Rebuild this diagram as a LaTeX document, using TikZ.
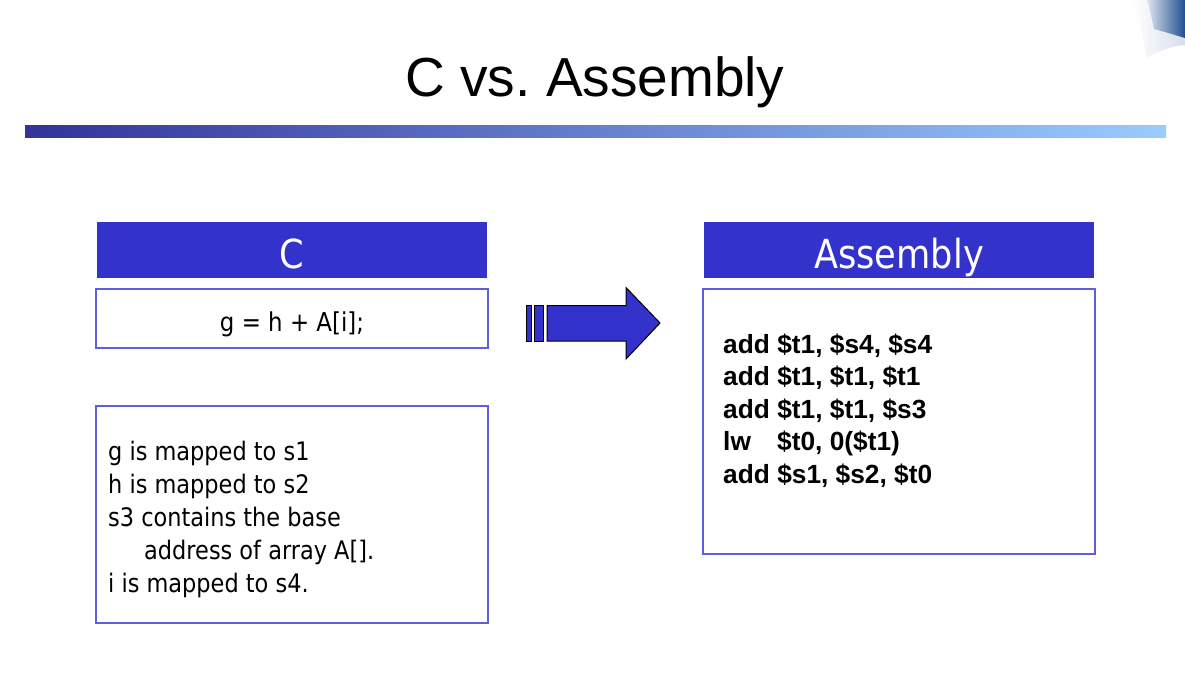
\documentclass[tikz,border=0pt]{standalone}
\usepackage{fontspec}
\newfontfamily\tah[FakeStretch=0.88]{DejaVu Sans}
\newfontfamily\ari{Liberation Sans}
\definecolor{hdr}{HTML}{3333CC}
\definecolor{bord}{HTML}{5F5FDD}
\definecolor{barL}{HTML}{333399}
\definecolor{barR}{HTML}{99CCFF}
\definecolor{curlD}{HTML}{1F4F8F}
\definecolor{curlL}{HTML}{D8DEEA}
\tikzset{
  hdrbox/.style={fill=hdr, draw=none},
  bodybox/.style={draw=bord, line width=1.3pt, fill=white},
  hdrtext/.style={text=white, font=\tah\fontsize{40}{40}\selectfont, anchor=base, inner sep=0pt},
  ctext/.style={font=\tah\fontsize{25.5}{33}\selectfont, anchor=base west, inner sep=0pt},
  asmtext/.style={font=\ari\bfseries\fontsize{26.3}{32.5}\selectfont, anchor=base west, inner sep=0pt},
  arrowpart/.style={fill=hdr, draw=black, line width=1pt}
}
\frenchspacing
\begin{document}
\begin{tikzpicture}[x=1pt,y=-1pt]
\useasboundingbox (0,0) rectangle (1185,683);
\fill[white] (0,0) rectangle (1185,683);
% corner decoration
\shade[left color=white, right color=curlL, draw=none]
  (1132,0) .. controls (1140,20) and (1144,40) .. (1146,58)
  .. controls (1160,50) and (1172,46) .. (1185,45) -- (1185,0) -- cycle;
\shade[left color=curlD!15!white, right color=curlD, draw=none]
  (1147,0) .. controls (1150,10) and (1152,20) .. (1154,29)
  .. controls (1165,32) and (1175,35) .. (1185,38) -- (1185,0) -- cycle;
% title
\node[font=\ari\fontsize{55}{55}\selectfont, anchor=base, inner sep=0pt] (title) at (595,96) {C vs.\ Assembly};
% gradient bar
\shade[left color=barL, right color=barR] (25,125) rectangle (1166,137);
% C column
\path[hdrbox] (97,222) rectangle (487,278);
\node[hdrtext] (chdr) at (292,268) {C};
\draw[bodybox] (96,289) rectangle (488,348);
\node[font=\tah\fontsize{26}{26}\selectfont, anchor=base, inner sep=0pt] (ccode) at (292,331) {g = h + A[i];};
\draw[bodybox] (96,406) rectangle (488,623);
\node[ctext] (l1) at (108,460) {g is mapped to s1};
\node[ctext] (l2) at (108,493) {h is mapped to s2};
\node[ctext] (l3) at (108,526) {s3 contains the base};
\node[ctext] (l4) at (144,559) {address of array A[].};
\node[ctext] (l5) at (108,592) {i is mapped to s4.};
% arrow
\draw[arrowpart] (526.5,305.5) rectangle (531.5,341);
\draw[arrowpart] (534.5,305.5) rectangle (543.5,341);
\draw[arrowpart] (547,305.5) -- (626,305.5) -- (626,287.5) -- (660,323) -- (626,359) -- (626,341) -- (547,341) -- cycle;
% Assembly column
\path[hdrbox] (704,222) rectangle (1094,278);
\node[hdrtext] (ahdr) at (899,268) {Assembly};
\draw[bodybox] (703,289) rectangle (1095,554);
\node[asmtext] (a1) at (723,353) {add \$t1, \$s4, \$s4};
\node[asmtext] (a2) at (723,385.5) {add \$t1, \$t1, \$t1};
\node[asmtext] (a3) at (723,418) {add \$t1, \$t1, \$s3};
\node[asmtext] (a4) at (723,450.5) {lw};
\node[asmtext] (a4b) at (777,450.5) {\$t0, 0(\$t1)};
\node[asmtext] (a5) at (723,483) {add \$s1, \$s2, \$t0};
\end{tikzpicture}
\end{document}
